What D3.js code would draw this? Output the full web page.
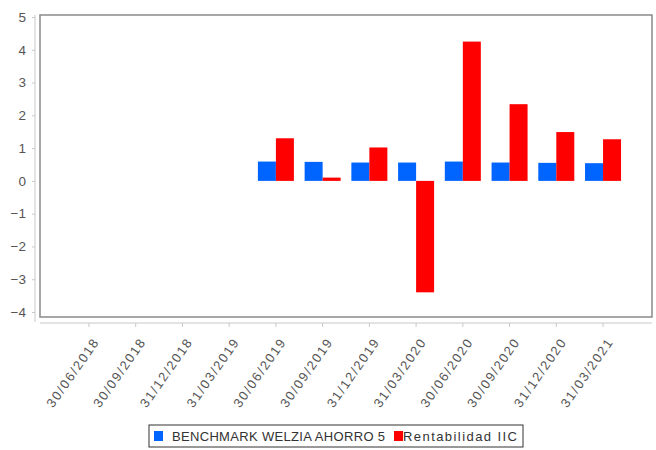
<!DOCTYPE html>
<html>
<head>
<meta charset="utf-8">
<script src="https://cdn.jsdelivr.net/npm/d3@7"></script>
<style>
  body { margin: 0; background: #fff; }
  svg text { font-family: "Liberation Sans", Arial, sans-serif; }
</style>
</head>
<body>
<div id="chart"></div>
<script>
// quarter labels on the x axis
const dates = ["30/06/2018", "30/09/2018", "31/12/2018", "31/03/2019", "30/06/2019", "30/09/2019",
  "31/12/2019", "31/03/2020", "30/06/2020", "30/09/2020", "31/12/2020", "31/03/2021"];
// series (null = no bar)
const benchmark = [null, null, null, null, 0.59, 0.58, 0.56, 0.56, 0.59, 0.56, 0.55, 0.54];
const rentabilidad = [null, null, null, null, 1.30, 0.10, 1.02, -3.40, 4.25, 2.34, 1.49, 1.27];
const seriesNames = ["BENCHMARK WELZIA AHORRO 5", "Rentabilidad IIC"];
const seriesColors = ["#0064ff", "#ff0000"];
const yTicks = [5, 4, 3, 2, 1, 0, -1, -2, -3, -4];

const width = 656, height = 450;

const svg = d3.select("#chart").append("svg")
  .attr("width", width)
  .attr("height", height);

// plot frame
const frame = { left: 40, top: 15, right: 652, bottom: 317 };

const y = d3.scaleLinear().domain([-4, 5]).range([312, 17]);
const x = d3.scaleBand().domain(dates).range([65.6, 626.4]);
const xs = d3.scaleBand().domain([0, 1]).range([0, 36]);

svg.append("rect")
  .attr("x", frame.left).attr("y", frame.top)
  .attr("width", frame.right - frame.left).attr("height", frame.bottom - frame.top)
  .attr("fill", "none").attr("stroke", "#8a8a8a").attr("stroke-width", 1.5);

// y axis
const yAxis = svg.append("g")
  .attr("transform", "translate(35,0)")
  .call(d3.axisLeft(y).tickValues(yTicks).tickSize(3).tickPadding(6).tickFormat(d3.format("d")));
yAxis.select(".domain").attr("stroke", "#c8c8c8").attr("d", "M0," + frame.top + "V" + (frame.bottom + 5));
yAxis.selectAll(".tick line").attr("stroke", "#c8c8c8");
yAxis.selectAll("text").attr("fill", "#555").style("font-size", "13.5px");

// x axis
const xAxis = svg.append("g")
  .attr("transform", "translate(0,323)")
  .call(d3.axisBottom(x).tickSize(4).tickSizeOuter(0));
xAxis.select(".domain").attr("stroke", "#c8c8c8").attr("d", "M" + frame.left + ",0H" + frame.right);
xAxis.selectAll(".tick line").attr("stroke", "#c8c8c8");
xAxis.selectAll("text")
  .attr("fill", "#555")
  .style("font-size", "13px")
  .attr("text-anchor", "end")
  .attr("x", 0).attr("y", 0).attr("dy", 0)
  .attr("textLength", 80)
  .attr("lengthAdjust", "spacing")
  .attr("transform", "translate(10,20) rotate(-55)");

// bars
const rows = dates.map((d, i) => ({ date: d, vals: [benchmark[i], rentabilidad[i]] }));
const groups = svg.selectAll(".grp").data(rows).join("g")
  .attr("class", "grp")
  .attr("transform", d => "translate(" + (x(d.date) + x.bandwidth() / 2 - 18) + ",0)");

groups.selectAll("rect")
  .data(d => d.vals.map((v, k) => ({ k: k, v: v })).filter(e => e.v !== null))
  .join("rect")
  .attr("x", e => xs(e.k))
  .attr("width", xs.bandwidth())
  .attr("y", e => Math.min(y(e.v), y(0)))
  .attr("height", e => Math.abs(y(e.v) - y(0)))
  .attr("fill", e => seriesColors[e.k]);

// legend
const legend = svg.append("g").attr("transform", "translate(149,425)");
legend.append("rect")
  .attr("width", 374).attr("height", 22)
  .attr("fill", "#fff").attr("stroke", "#333").attr("stroke-width", 1);
const items = [{ x: 5, tx: 23, len: 213 }, { x: 245, tx: 254, len: 114 }];
seriesNames.forEach((name, k) => {
  legend.append("rect")
    .attr("x", items[k].x).attr("y", 6)
    .attr("width", 9).attr("height", 10)
    .attr("fill", seriesColors[k]);
  legend.append("text")
    .attr("x", items[k].tx).attr("y", 16)
    .attr("fill", "#333")
    .style("font-size", "13px")
    .attr("textLength", items[k].len)
    .attr("lengthAdjust", "spacing")
    .text(name);
});
</script>
</body>
</html>
